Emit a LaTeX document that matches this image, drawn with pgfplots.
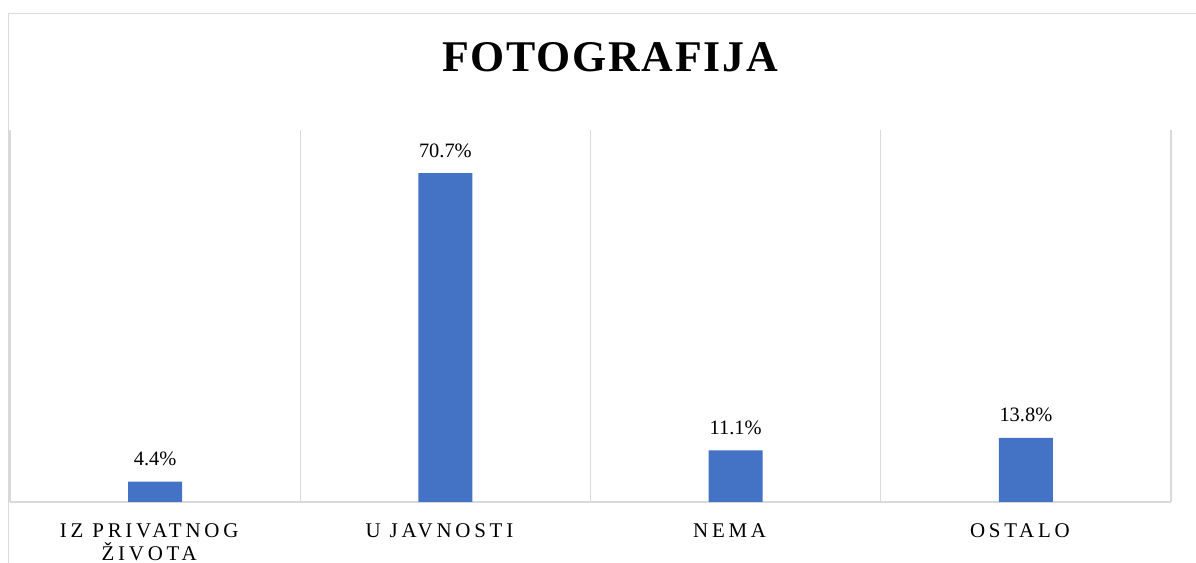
\documentclass[border=0pt]{standalone}
\usepackage{pgfplots}
\pgfplotsset{compat=1.18}
\usepackage{fontspec}
\setmainfont{Liberation Serif}
\definecolor{barblue}{HTML}{4472C4}
\definecolor{gridgray}{HTML}{D9D9D9}
\begin{document}
\begin{tikzpicture}[x=1bp,y=1bp]
\useasboundingbox (0,0) rectangle (1196,563);
% outer chart border
\draw[gridgray, line width=1.5bp] (8.5,0) -- (8.5,549.5) -- (1200,549.5);
% title
\node[anchor=base, inner sep=0pt] at (610,491) {\fontsize{44}{50}\selectfont\bfseries\addfontfeature{LetterSpace=4}FOTOGRAFIJA};
\begin{axis}[
  at={(155.125bp,61bp)}, anchor=origin,
  width=1161bp, height=372bp, scale only axis,
  xmin=-0.5, xmax=3.5, ymin=0, ymax=80,
  axis y line=none,
  axis x line*=bottom,
  x axis line style={gridgray, line width=1.2bp, -},
  xtick={0,1,2,3},
  xticklabels={{IZ PRIVATNOG\\ŽIVOTA},{U JAVNOSTI\\\mbox{}},{NEMA\\\mbox{}},{OSTALO\\\mbox{}}},
  major tick length=0pt, minor tick length=0pt,
  minor xtick={-0.5,0.5,1.5,2.5,3.5},
  xminorgrids=true,
  minor grid style={gridgray, line width=1.2bp},
  xticklabel style={anchor=base, yshift=-58.5bp, xshift=-6bp, align=center,
    font=\fontsize{21}{23.5}\selectfont\addfontfeature{LetterSpace=18}},
  ybar, bar width=54bp,
  nodes near coords={\pgfmathprintnumber[assume math mode=true,fixed,precision=1,fixed zerofill]{\pgfplotspointmeta}\%},
  every node near coord/.append style={anchor=base, yshift=16bp, inner sep=0pt,
    font=\fontsize{20.5}{24}\selectfont},
  clip=false,
]
\addplot[fill=barblue, draw=none] coordinates {(0,4.4) (1,70.7) (2,11.1) (3,13.8)};
\end{axis}
\end{tikzpicture}
\end{document}
